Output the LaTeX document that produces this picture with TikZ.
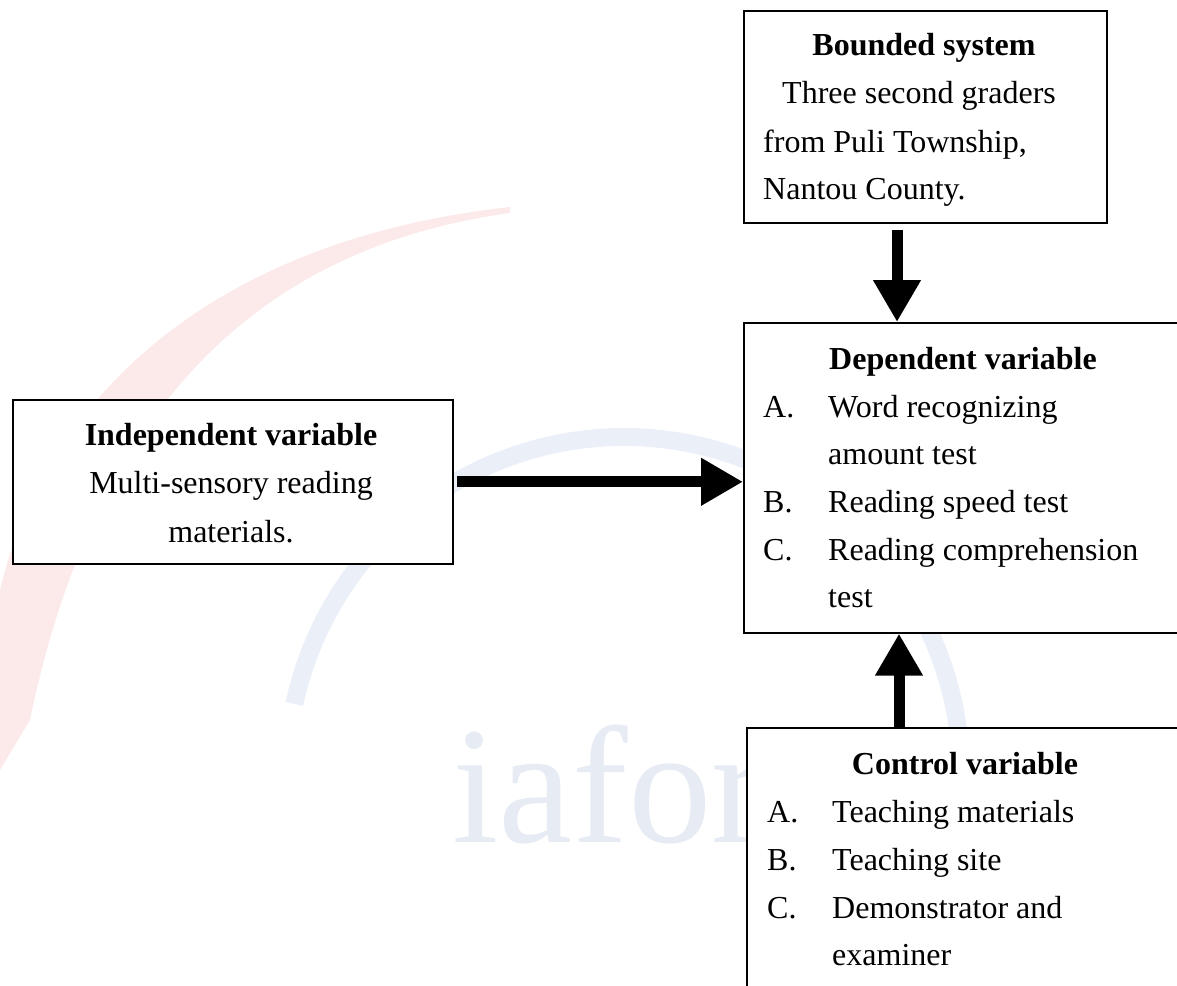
\documentclass[tikz,border=0pt]{standalone}
\usepackage{fontspec}
\setmainfont{Liberation Serif}
\usetikzlibrary{arrows.meta}
\definecolor{wmred}{RGB}{252,234,234}
\definecolor{wmblue}{RGB}{235,240,248}
\definecolor{wmtext}{RGB}{231,236,244}
\tikzset{
  box/.style={draw=black, line width=1.6pt, fill=white, anchor=north west, inner sep=0pt},
  titletext/.style={anchor=base, inner sep=0pt, font=\fontsize{32}{48}\selectfont\bfseries},
  lefttext/.style={anchor=base west, inner sep=0pt, font=\fontsize{32}{48}\selectfont},
  centertext/.style={anchor=base, inner sep=0pt, font=\fontsize{32}{48}\selectfont},
  bigarrow/.style={line width=11pt, -{Triangle[length=42pt,width=45pt]}},
}
\newcommand{\itemlabel}[1]{\makebox[65pt][l]{#1}}
\begin{document}
\begin{tikzpicture}[x=1pt,y=-1pt]
\useasboundingbox (0,0) rectangle (1177,985);
\clip (0,0) rectangle (1177,985);
% watermark
\fill[wmred] (0,590) .. controls (45,400) and (210,240) .. (510,207)
  -- (510,213) .. controls (240,250) and (90,430) .. (30,720) -- (0,770) -- cycle;
\draw[wmblue, line width=18pt] plot[domain=168:0, samples=80, smooth, variable=\t]
  ({624+337*cos(\t)},{774-337*sin(\t)});
\node[anchor=base west, inner sep=0pt, text=wmtext, font=\fontsize{167}{167}\selectfont] (wm) at (452,842) {iafor};
% boxes
\node[box, minimum width=363pt, minimum height=212pt] (bounded) at (743,10) {};
\node[box, minimum width=470pt, minimum height=310pt] (dep) at (743,322) {};
\node[box, minimum width=440pt, minimum height=164pt] (indep) at (12,399) {};
\node[box, minimum width=470pt, minimum height=300pt] (ctl) at (746,727) {};
% arrows
\coordinate (dx) at (897,0);
\coordinate (ux) at (899,0);
\draw[bigarrow, shorten <=6pt] (dx |- bounded.south) -- (dx |- dep.north);
\draw[bigarrow, shorten <=3pt] (indep.east) -- (indep.east -| dep.west);
\draw[bigarrow] (ux |- ctl.north) -- (ux |- dep.south);
% texts
\node[titletext] (bt) at (924,55) {Bounded system};
\node[lefttext] (b1) at (782,103) {Three second graders};
\node[lefttext] (b2) at (763,152) {from Puli Township,};
\node[lefttext] (b3) at (763,199) {Nantou County.};
\node[titletext] (it) at (231,445) {Independent variable};
\node[centertext] (i1) at (231,493) {Multi-sensory reading};
\node[centertext] (i2) at (231,542) {materials.};
\node[titletext] (dt) at (963,369) {Dependent variable};
\node[lefttext] (d1) at (763,417) {\itemlabel{A.}Word recognizing};
\node[lefttext] (d2) at (828,464) {amount test};
\node[lefttext] (d3) at (763,512) {\itemlabel{B.}Reading speed test};
\node[lefttext] (d4) at (763,560) {\itemlabel{C.}Reading comprehension};
\node[lefttext] (d5) at (828,607) {test};
\node[titletext] (ct) at (965,774) {Control variable};
\node[lefttext] (c1) at (767,822) {\itemlabel{A.}Teaching materials};
\node[lefttext] (c2) at (767,870) {\itemlabel{B.}Teaching site};
\node[lefttext] (c3) at (767,918) {\itemlabel{C.}Demonstrator and};
\node[lefttext] (c4) at (832,965) {examiner};
\end{tikzpicture}
\end{document}
